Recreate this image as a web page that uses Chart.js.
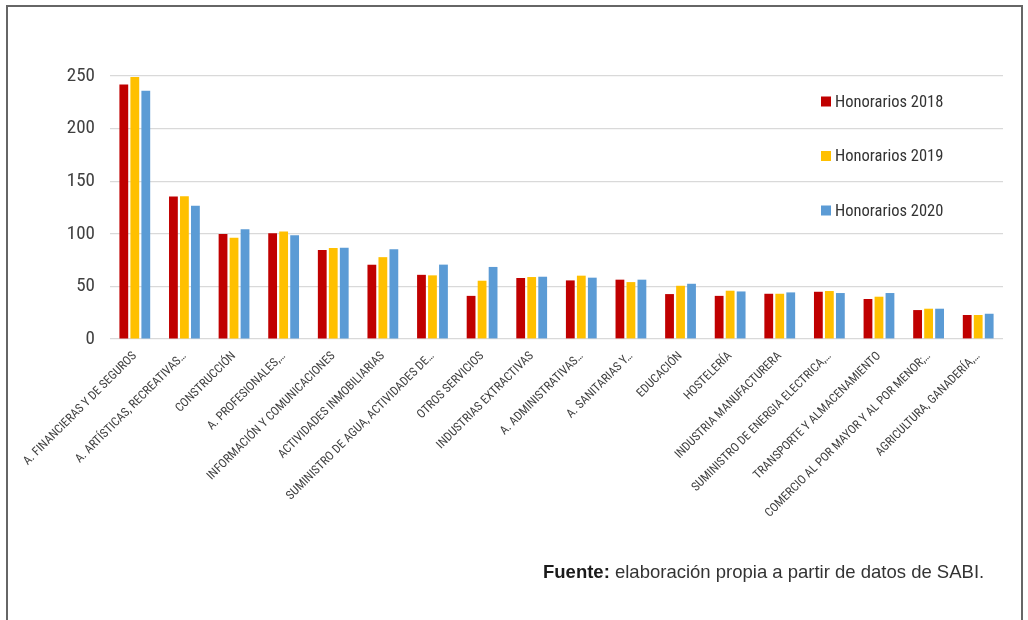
<!DOCTYPE html>
<html lang="es">
<head>
<meta charset="utf-8">
<title>Honorarios por sector de actividad</title>
<script src="https://cdn.jsdelivr.net/npm/chart.js@4.4.1/dist/chart.umd.min.js"></script>
<style>
  html, body { margin: 0; padding: 0; background: #fff; }
  #wrap { position: relative; width: 1028px; height: 620px; overflow: hidden; }
  #frame { position: absolute; left: 6px; top: 5px; width: 1013px; height: 700px;
           border: 2px solid #666; border-bottom: none; }
  #chart { position: absolute; left: 0; top: 0; }
  #fuente { position: absolute; left: 543px; top: 563px; white-space: nowrap;
            font: 18.5px/18px "Liberation Sans", Arial, sans-serif; color: #333; }
  #fuente b { color: #1a1a1a; }
</style>
</head>
<body>
<div id="wrap">
  <div id="frame"></div>
  <canvas id="chart" width="1028" height="620"></canvas>
  <div id="fuente"><b>Fuente:</b> elaboración propia a partir de datos de SABI.</div>
</div>
<script>
// sectores de actividad, ordenados como en el gráfico
const sectores = [
  'A. FINANCIERAS Y DE SEGUROS',
  'A. ARTÍSTICAS, RECREATIVAS…',
  'CONSTRUCCIÓN',
  'A. PROFESIONALES,…',
  'INFORMACIÓN Y COMUNICACIONES',
  'ACTIVIDADES INMOBILIARIAS',
  'SUMINISTRO DE AGUA, ACTIVIDADES DE…',
  'OTROS SERVICIOS',
  'INDUSTRIAS EXTRACTIVAS',
  'A. ADMINISTRATIVAS…',
  'A. SANITARIAS Y…',
  'EDUCACIÓN',
  'HOSTELERÍA',
  'INDUSTRIA MANUFACTURERA',
  'SUMINISTRO DE ENERGIA ELECTRICA,…',
  'TRANSPORTE Y ALMACENAMIENTO',
  'COMERCIO AL POR MAYOR Y AL POR MENOR;…',
  'AGRICULTURA, GANADERÍA,…'
];

const honorarios2018 = [242, 135.5, 99.7, 100.6, 84.5, 70.6, 61, 41, 58, 55.7, 56.4, 42.7, 41, 43, 44.9, 38, 27.5, 22.8];
const honorarios2019 = [249, 135.8, 96.2, 102.2, 86.4, 77.8, 60.5, 55.4, 58.9, 60.2, 54.1, 50.6, 45.9, 43, 45.6, 40.2, 28.8, 22.8];
const honorarios2020 = [236, 126.6, 104.4, 98.7, 86.7, 85.4, 70.7, 68.5, 59.2, 58.3, 56.4, 52.5, 45.2, 44.3, 43.7, 43.7, 28.8, 24];

const ejeY = { min: 0, max: 250, paso: 50 };

const fuenteEstrecha = '"Roboto Condensed", Roboto, sans-serif';

// leyenda en columna dentro del área del gráfico, a la derecha
const leyendaLateral = {
  id: 'leyendaLateral',
  afterDraw(chart) {
    const ctx = chart.ctx;
    const x = chart.chartArea.right - 182;
    ctx.save();
    ctx.font = '16.5px ' + fuenteEstrecha;
    ctx.textBaseline = 'middle';
    chart.data.datasets.forEach((ds, i) => {
      const y = 101.5 + i * 54.5;
      ctx.fillStyle = ds.backgroundColor;
      ctx.fillRect(x, y - 5, 10, 10);
      ctx.fillStyle = '#333';
      ctx.fillText(ds.label, x + 14, y + 1);
    });
    ctx.restore();
  }
};

new Chart(document.getElementById('chart'), {
  type: 'bar',
  data: {
    labels: sectores,
    datasets: [
      { label: 'Honorarios 2018', data: honorarios2018, backgroundColor: '#C00000' },
      { label: 'Honorarios 2019', data: honorarios2019, backgroundColor: '#FFC000' },
      { label: 'Honorarios 2020', data: honorarios2020, backgroundColor: '#5B9BD5' }
    ]
  },
  options: {
    responsive: false,
    animation: false,
    categoryPercentage: 0.665,
    barPercentage: 0.8,
    layout: { padding: { left: 0, top: 76, right: 25, bottom: 0 } },
    plugins: {
      legend: { display: false },
      tooltip: { enabled: false }
    },
    scales: {
      x: {
        grid: { display: false, drawTicks: false },
        border: { display: false },
        ticks: {
          autoSkip: false,
          minRotation: 45,
          maxRotation: 45,
          padding: 10,
          color: '#404040',
          font: { family: fuenteEstrecha, size: 12.2 }
        },
        afterFit(scale) { scale.height = 281; }
      },
      y: {
        min: ejeY.min,
        max: ejeY.max,
        grid: { color: '#d9d9d9', lineWidth: 1.2, drawTicks: false },
        border: { display: false },
        ticks: {
          stepSize: ejeY.paso,
          padding: 15,
          color: '#404040',
          font: { family: fuenteEstrecha, size: 19 }
        },
        afterFit(scale) { scale.width = 110; }
      }
    }
  },
  plugins: [leyendaLateral]
});
</script>
</body>
</html>
